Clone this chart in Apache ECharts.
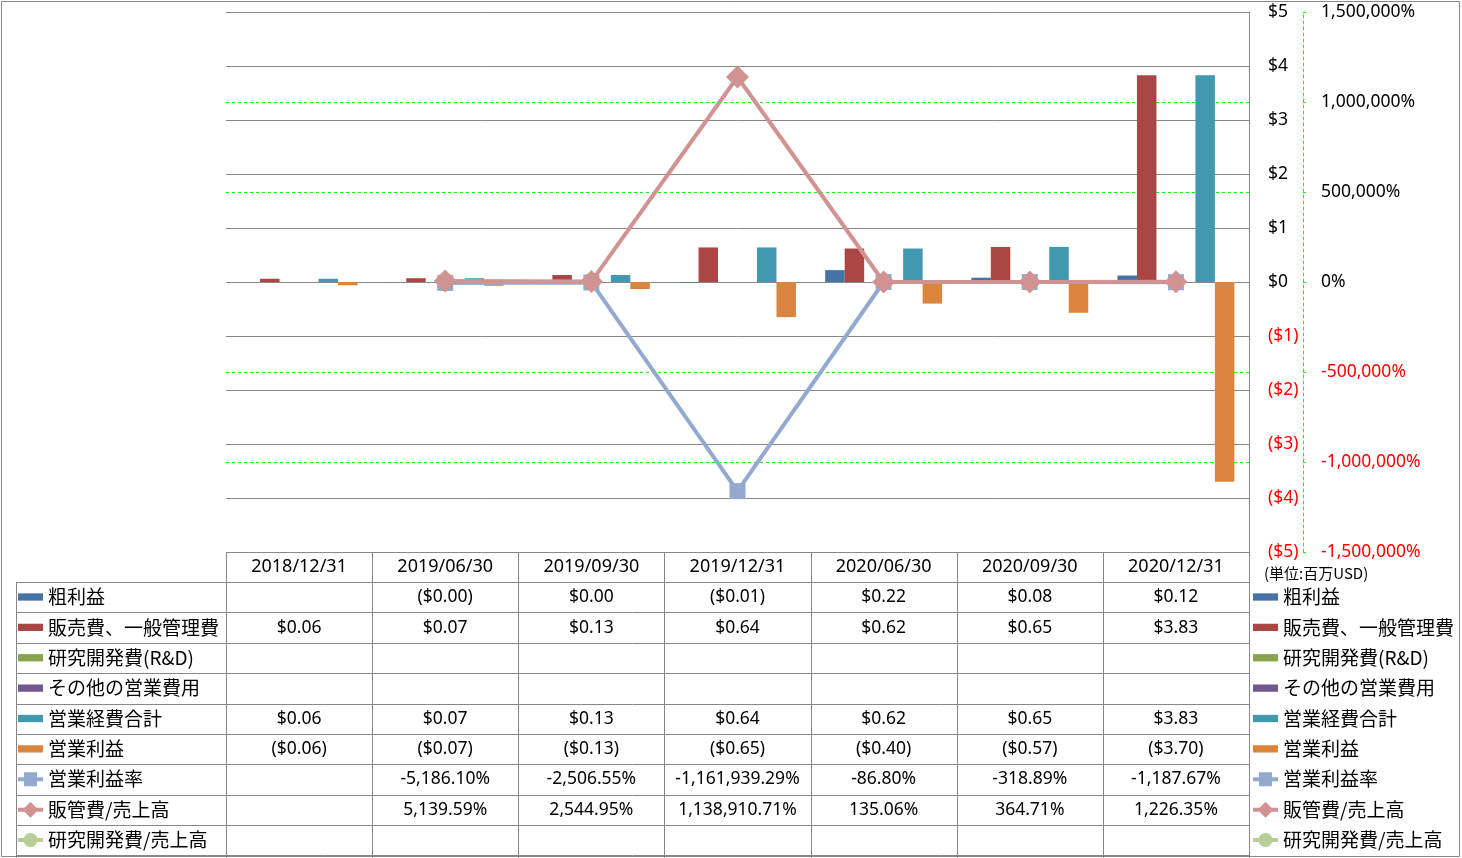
<!DOCTYPE html>
<html><head><meta charset="utf-8">
<script src="https://cdn.jsdelivr.net/npm/echarts@6/dist/echarts.min.js"></script>
<style>html,body{margin:0;padding:0;background:#fff}#c{width:1462px;height:858px}</style>
</head><body><div id="c"></div>
<script>
// ---- data ----
const categories = ['2018/12/31','2019/06/30','2019/09/30','2019/12/31','2020/06/30','2020/09/30','2020/12/31'];
const grossProfit   = [null, -0.004, 0.003, -0.01, 0.22, 0.08, 0.12];
const sga           = [0.06, 0.07, 0.13, 0.64, 0.62, 0.65, 3.83];
const rnd           = [null, null, null, null, null, null, null];
const otherOpex     = [null, null, null, null, null, null, null];
const totalOpex     = [0.06, 0.07, 0.13, 0.64, 0.62, 0.65, 3.83];
const opIncome      = [-0.06, -0.07, -0.13, -0.65, -0.40, -0.57, -3.70];
const opMargin      = [null, -5186.10, -2506.55, -1161939.29, -86.80, -318.89, -1187.67];
const sgaRatio      = [null, 5139.59, 2544.95, 1138910.71, 135.06, 364.71, 1226.35];
const rndRatio      = [null, null, null, null, null, null, null];
const usdTicks = {min: -5, max: 5, interval: 1};
const pctTicks = {min: -1500000, max: 1500000, interval: 500000};

const barNames = ['粗利益','販売費、一般管理費','研究開発費(R&D)','その他の営業費用','営業経費合計','営業利益'];
const lineNames = ['営業利益率','販管費/売上高','研究開発費/売上高'];
const barData = [grossProfit, sga, rnd, otherOpex, totalOpex, opIncome];
const lineData = [opMargin, sgaRatio, rndRatio];
const barColors = ['#4572A7','#AA4643','#89A54E','#71588F','#4198AF','#DB843D'];
const lineColors = ['#93A9CF','#D19392','#B9CD96'];
const lineSymbols = ['rect','diamond','circle'];
const lineSymbolSizes = [16, 23, 16];

const GRAY = '#888888';
const GREEN = '#00ff00';
const NUMFONT = '"Noto Sans", "DejaVu Sans", sans-serif';
const JPFONT = '"Noto Sans CJK JP", "Noto Sans", sans-serif';

function fmtUsd(v){ if(v==null) return ''; const s='$'+Math.abs(v).toFixed(2); return v<0?'('+s+')':s; }
function fmtPct(v){ if(v==null) return ''; return v.toLocaleString('en-US',{minimumFractionDigits:2,maximumFractionDigits:2})+'%'; }

const chart = echarts.init(document.getElementById('c'), null, {renderer:'canvas'});

const series = [];
barNames.forEach((n,i)=>series.push({
  name:n, type:'bar', yAxisIndex:0, data:barData[i], barGap:'0%', barCategoryGap:'20%',
  itemStyle:{color:barColors[i]}, z:2
}));
lineNames.forEach((n,i)=>series.push({
  name:n, type:'line', yAxisIndex:1, data:lineData[i], connectNulls:false,
  symbol:lineSymbols[i], symbolSize:lineSymbolSizes[i], showSymbol:true,
  lineStyle:{color:lineColors[i], width:4}, itemStyle:{color:lineColors[i], borderWidth:0}, z:3+i
}));

// legend icons: thin bar for bar series; line + marker for line series
const barIcon = 'path://M0,0h24v7h-24z';
const lineIcons = [
  'path://M0,7H6V2H19V7H25V11H19V16H6V11H0Z',
  'path://M0,7H6.5L12.5,1L18.5,7H25V11H18.5L12.5,17L6.5,11H0Z',
  'path://M0,7H5.8A7,7 0 0 1 19.2,7H25V11H19.2A7,7 0 0 1 5.8,11H0Z'
];
const legendData = barNames.map(n=>({name:n, icon:barIcon}))
  .concat(lineNames.map((n,i)=>({name:n, icon:lineIcons[i]})));
function mkLegend(left){
  return {
    orient:'vertical', left:left, top:587, padding:0, itemGap:10.375,
    itemWidth:25, itemHeight:18, selectedMode:false, symbolKeepAspect:true,
    textStyle:{fontFamily:JPFONT, fontSize:19, color:'#000', lineHeight:20, padding:[0,0,0,0]},
    data:legendData
  };
}

chart.setOption({
  animation:false,
  backgroundColor:'#fff',
  grid:{left:226, right:213, top:12, bottom:306, containLabel:false},
  legend:[mkLegend(18), mkLegend(1253)],
  xAxis:{
    type:'category', data:categories, boundaryGap:true, position:'bottom',
    axisLine:{show:false, onZero:false}, axisTick:{show:false}, splitLine:{show:false},
    axisLabel:{fontFamily:NUMFONT, fontSize:18, color:'#000', margin:15, verticalAlign:'middle', interval:0}
  },
  yAxis:[
    { type:'value', position:'right', min:usdTicks.min, max:usdTicks.max, interval:usdTicks.interval, z:1,
      axisLine:{show:true, lineStyle:{color:GRAY, width:1}}, axisTick:{show:false},
      splitLine:{show:true, lineStyle:{color:GRAY, width:1}},
      axisLabel:{margin:19, fontFamily:NUMFONT, fontSize:17.5,
        color:(v)=> (Number(v)<0?'#ff0000':'#000'),
        formatter:(v)=> v<0 ? '($'+(-v)+')' : '$'+v }
    },
    { type:'value', position:'right', offset:54, min:pctTicks.min, max:pctTicks.max, interval:pctTicks.interval, z:0,
      axisLine:{show:true, lineStyle:{color:GREEN, width:1, type:[3,3]}},
      axisTick:{show:true, length:3, lineStyle:{color:GREEN, width:1}},
      splitLine:{show:true, lineStyle:{color:GREEN, width:1, type:[3,3]}},
      axisLabel:{margin:18, fontFamily:NUMFONT, fontSize:17.5,
        color:(v)=> (Number(v)<0?'#ff0000':'#000'),
        formatter:(v)=> v.toLocaleString('en-US')+'%' }
    }
  ],
  series:series
});

// ---- data table ----
const cx = categories.map((c,i)=>chart.convertToPixel({xAxisIndex:0}, i));
const bw = cx[1]-cx[0];
const gx0 = cx[0]-bw/2, gx1 = cx[cx.length-1]+bw/2;
const tTop = 552, hBottom = 582, rowH = 30.375, nRows = 9;
const g = [];
const lineStyle = {stroke:GRAY, lineWidth:1};
for(let r=0;r<=nRows;r++){
  const y = Math.round(hBottom + r*rowH)+0.5;
  g.push({type:'line', shape:{x1:16, y1:y, x2:gx1, y2:y}, style:lineStyle, silent:true});
}
g.push({type:'line', shape:{x1:16.5, y1:hBottom, x2:16.5, y2:858}, style:lineStyle, silent:true});
for(let k=0;k<=categories.length;k++){
  const x = Math.round(gx0 + k*bw)+0.5;
  g.push({type:'line', shape:{x1:x, y1:tTop, x2:x, y2:858}, style:lineStyle, silent:true});
}
const rowsVals = [grossProfit, sga, rnd, otherOpex, totalOpex, opIncome, opMargin, sgaRatio, rndRatio];
rowsVals.forEach((arr,r)=>{
  const y = hBottom + (r+0.5)*rowH;
  arr.forEach((v,i)=>{
    const t = r<6 ? fmtUsd(v) : fmtPct(v);
    if(!t) return;
    g.push({type:'text', x:cx[i], y:y, silent:true,
      style:{text:t, fill:'#000', font:'17.5px '+NUMFONT, textAlign:'center', textVerticalAlign:'middle'}});
  });
});
g.push({type:'text', x:1264, y:573, silent:true,
  style:{text:'(単位:百万USD)', fill:'#000', font:'15px '+JPFONT, textAlign:'left', textVerticalAlign:'middle'}});
g.push({type:'rect', shape:{x:1.5, y:1.5, width:1458, height:855}, style:{fill:'none', stroke:GRAY, lineWidth:1}, silent:true, z:-1});
chart.setOption({graphic:g});
</script>
</body></html>
